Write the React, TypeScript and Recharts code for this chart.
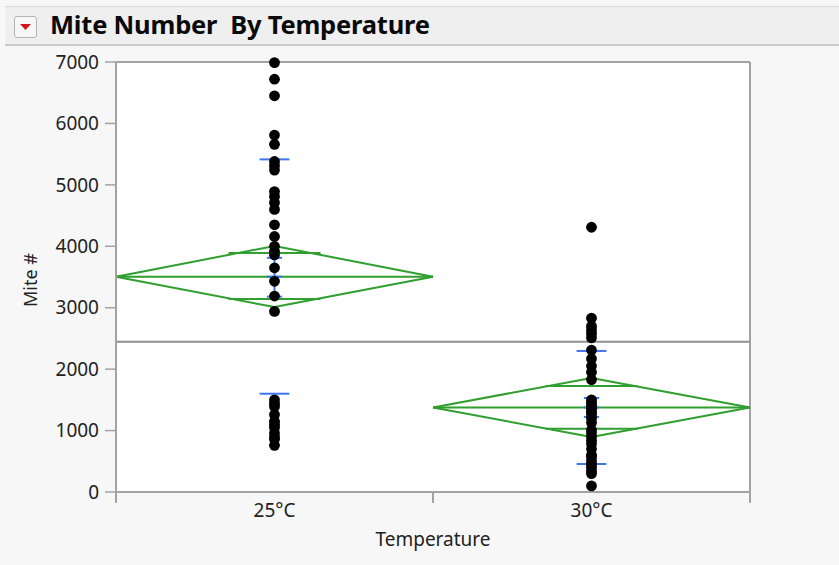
import React from 'react';
import {
  ScatterChart,
  Scatter,
  XAxis,
  YAxis,
  CartesianGrid,
  ReferenceLine,
  Label,
} from 'recharts';

// values
const categories = ['25°C', '30°C'];
const mites25C = [
  6990, 6720, 6450, 5810, 5660, 5380, 5310, 5240, 4890, 4810, 4710, 4600, 4350, 4160,
  4000, 3920, 3860, 3650, 3430, 3190, 2940, 1500, 1440, 1390, 1260, 1150, 1100, 1050,
  960, 900, 860, 760,
];
const mites30C = [
  4310, 2830, 2700, 2640, 2580, 2510, 2310, 2170, 2050, 1950, 1830, 1500, 1460, 1420,
  1380, 1340, 1300, 1260, 1200, 1130, 1010, 960, 900, 840, 780, 700, 600, 580, 520, 460,
  450, 400, 340, 300, 100,
];
const groupMean = [3505, 1376];
const ciLow = [3010, 896];
const ciHigh = [4005, 1857];
const overlapLow = [3140, 1030];
const overlapHigh = [3890, 1725];
const seLow = [3180, 1222];
const seHigh = [3812, 1530];
const sdLow = [1600, 456];
const sdHigh = [5415, 2296];
const grandMean = 2445;
const yTicks = [0, 1000, 2000, 3000, 4000, 5000, 6000, 7000];
const xTicks = [0, 0.5, 1, 1.5, 2];

const FONT = '"Noto Sans", "Open Sans", sans-serif';
const GREEN = '#2f9f2f';
const BLUE = '#3f74f0';
const FRAME = '#a3a3a3';

const points25 = mites25C.map((v) => ({ x: 0.5, y: v }));
const points30 = mites30C.map((v) => ({ x: 1.5, y: v }));

type Seg = [{ x: number; y: number }, { x: number; y: number }];

function diamondSegments(i: number): Seg[] {
  const x0 = i;
  const xc = i + 0.5;
  const x1 = i + 1;
  const m = groupMean[i];
  const ow = 0.145;
  return [
    [{ x: x0, y: m }, { x: xc, y: ciHigh[i] }],
    [{ x: xc, y: ciHigh[i] }, { x: x1, y: m }],
    [{ x: x1, y: m }, { x: xc, y: ciLow[i] }],
    [{ x: xc, y: ciLow[i] }, { x: x0, y: m }],
    [{ x: x0, y: m }, { x: x1, y: m }],
    [{ x: xc - ow, y: overlapHigh[i] }, { x: xc + ow, y: overlapHigh[i] }],
    [{ x: xc - ow, y: overlapLow[i] }, { x: xc + ow, y: overlapLow[i] }],
  ];
}

function barSegments(i: number): Seg[] {
  const xc = i + 0.5;
  const sw = 0.047;
  const ew = 0.024;
  return [
    [{ x: xc - sw, y: sdHigh[i] }, { x: xc + sw, y: sdHigh[i] }],
    [{ x: xc - sw, y: sdLow[i] }, { x: xc + sw, y: sdLow[i] }],
    [{ x: xc - ew, y: seHigh[i] }, { x: xc + ew, y: seHigh[i] }],
    [{ x: xc - ew, y: seLow[i] }, { x: xc + ew, y: seLow[i] }],
    [{ x: xc - ew, y: groupMean[i] }, { x: xc + ew, y: groupMean[i] }],
    [{ x: xc, y: seLow[i] }, { x: xc, y: seHigh[i] }],
  ];
}

const TICK_LEN = 11;

function CategoryTick(props: any) {
  const { x, y, payload } = props;
  const v = payload.value;
  if (Number.isInteger(v)) {
    return <line x1={x} x2={x} y1={y - TICK_LEN} y2={y} stroke={FRAME} strokeWidth={2} />;
  }
  const idx = Math.floor(v);
  return (
    <text x={x} y={y} dy={14} textAnchor="middle" fill="#222" fontSize={19} fontFamily={FONT}>
      {categories[idx]}
    </text>
  );
}

function Dot(props: any) {
  return <circle cx={props.cx} cy={props.cy} r={5.4} fill="#000" />;
}

export default function App() {
  return (
    <div
      style={{
        position: 'absolute',
        left: 0,
        top: 0,
        width: 839,
        height: 565,
        background: '#f7f7f7',
        fontFamily: FONT,
        overflow: 'hidden',
      }}
    >
      <div
        style={{
          position: 'absolute',
          left: 5,
          top: 6,
          width: 834,
          height: 37,
          background: '#efefef',
          borderTop: '1px solid #dcdcdc',
          borderBottom: '2px solid #cbcbcb',
        }}
      >
        <div
          style={{
            position: 'absolute',
            left: 9,
            top: 9,
            width: 21,
            height: 20,
            border: '1px solid #b5b5b5',
            borderRadius: 3,
            background: '#f6f6f6',
          }}
        >
          <svg width={21} height={20}>
            <polygon points="5,7 16,7 10.5,13" fill="#d4141a" />
          </svg>
        </div>
        <div
          style={{
            position: 'absolute',
            left: 45,
            top: 0,
            fontSize: 25.5,
            fontWeight: 700,
            color: '#0a0a0a',
            whiteSpace: 'pre',
            letterSpacing: -0.2,
          }}
        >
          {'Mite Number  By Temperature'}
        </div>
      </div>
      <div style={{ position: 'absolute', left: 0, top: 0 }}>
        <ScatterChart width={839} height={565} margin={{ top: 62, right: 89, bottom: 0, left: 0 }}>
          <CartesianGrid horizontal={false} vertical={false} fill="#ffffff" />
          <XAxis
            type="number"
            dataKey="x"
            domain={[0, 2]}
            ticks={xTicks}
            interval={0}
            height={73}
            tickSize={TICK_LEN}
            tickMargin={0}
            tickLine={false}
            tick={<CategoryTick />}
            axisLine={{ stroke: FRAME, strokeWidth: 2 }}
          >
            <Label
              value="Temperature"
              position="insideBottom"
              offset={19}
              fill="#222"
              fontSize={19}
              fontFamily={FONT}
            />
          </XAxis>
          <YAxis
            type="number"
            dataKey="y"
            domain={[0, 7000]}
            ticks={yTicks}
            interval={0}
            width={116}
            tickSize={TICK_LEN}
            tickMargin={6}
            tick={{ fill: '#222', fontSize: 19, fontFamily: FONT }}
            tickLine={{ stroke: FRAME, strokeWidth: 1.5 }}
            axisLine={{ stroke: FRAME, strokeWidth: 2 }}
          >
            <Label
              content={() => (
                <text
                  x={32}
                  y={280}
                  transform="rotate(-90 32 280)"
                  textAnchor="middle"
                  dominantBaseline="middle"
                  fill="#222"
                  fontSize={18}
                  fontFamily={FONT}
                >
                  Mite #
                </text>
              )}
            />
          </YAxis>
          <ReferenceLine y={7000} stroke={FRAME} strokeWidth={2} />
          <ReferenceLine x={2} stroke={FRAME} strokeWidth={2} />
          <ReferenceLine y={grandMean} stroke="#8f8f8f" strokeWidth={2} />
          {categories.map((c, i) =>
            diamondSegments(i).map((s, j) => (
              <ReferenceLine
                key={`d-${c}-${j}`}
                segment={s}
                stroke={GREEN}
                strokeWidth={2}
                ifOverflow="visible"
              />
            )),
          )}
          <Scatter name="25°C" data={points25} fill="#000" shape={<Dot />} isAnimationActive={false} />
          <Scatter name="30°C" data={points30} fill="#000" shape={<Dot />} isAnimationActive={false} />
          {categories.map((c, i) =>
            barSegments(i).map((s, j) => (
              <ReferenceLine
                key={`b-${c}-${j}`}
                segment={s}
                stroke={BLUE}
                strokeWidth={2}
                ifOverflow="visible"
              />
            )),
          )}
        </ScatterChart>
      </div>
    </div>
  );
}
